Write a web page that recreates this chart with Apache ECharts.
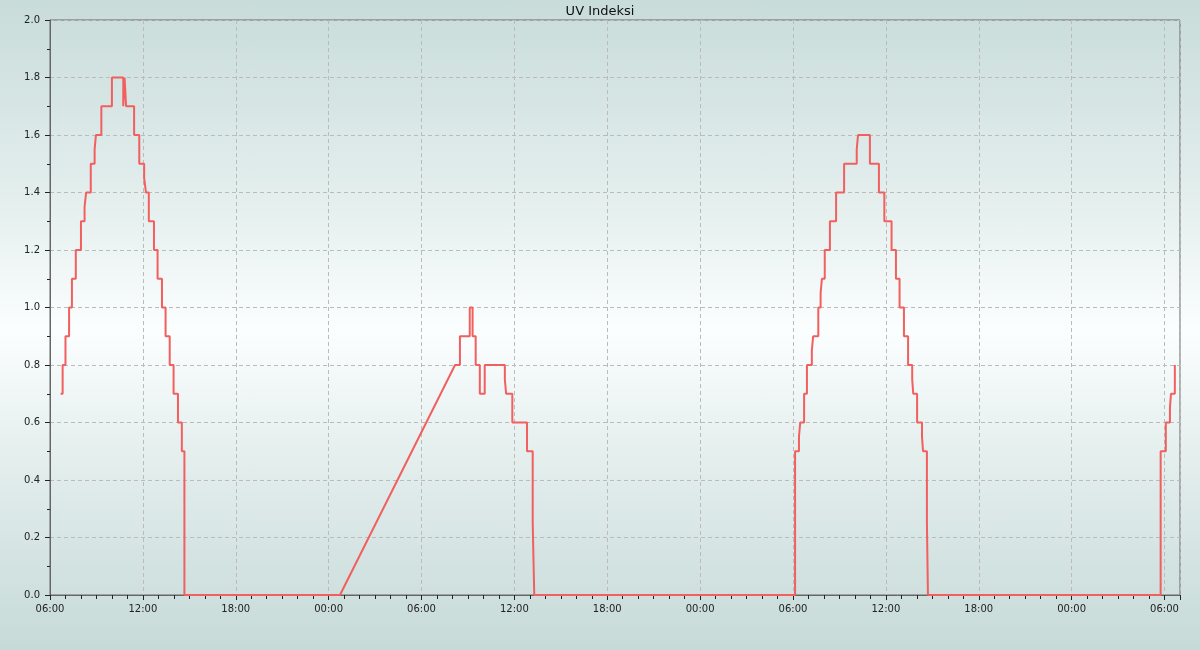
<!DOCTYPE html>
<html>
<head>
<meta charset="utf-8">
<script src="https://cdn.jsdelivr.net/npm/echarts@6/dist/echarts.min.js"></script>
<style>
  html, body { margin: 0; padding: 0; }
  body {
    width: 1200px; height: 650px; overflow: hidden;
    background: linear-gradient(to bottom, #c8dcda 0%, #e3eeed 30%, #fbfefe 51%, #e2edec 72%, #c6dad8 100%);
  }
  #chart { width: 1200px; height: 650px; }
</style>
</head>
<body>
<div id="chart"></div>
<script>
// ---- Data (change points: value holds from this time until the next one) ----
const title = 'UV Indeksi';

// Segment 1: day 1 morning through the night (ends at start of data gap)
const seg1Times = [
  '2024-06-10 06:41', '2024-06-10 06:49', '2024-06-10 07:00', '2024-06-10 07:14',
  '2024-06-10 07:25', '2024-06-10 07:40', '2024-06-10 08:00', '2024-06-10 08:14',
  '2024-06-10 08:20', '2024-06-10 08:38', '2024-06-10 08:53', '2024-06-10 08:58',
  '2024-06-10 09:19', '2024-06-10 10:00', '2024-06-10 10:44', '2024-06-10 10:49',
  '2024-06-10 10:55', '2024-06-10 11:26', '2024-06-10 11:46', '2024-06-10 12:05',
  '2024-06-10 12:12', '2024-06-10 12:23', '2024-06-10 12:43', '2024-06-10 12:57',
  '2024-06-10 13:14', '2024-06-10 13:28', '2024-06-10 13:44', '2024-06-10 13:59',
  '2024-06-10 14:16', '2024-06-10 14:31', '2024-06-10 14:41', '2024-06-11 00:44'
];
const seg1Values = [
  0.7, 0.8, 0.9, 1.0,
  1.1, 1.2, 1.3, 1.35,
  1.4, 1.5, 1.55, 1.6,
  1.7, 1.8, 1.7, 1.8,
  1.7, 1.6, 1.5, 1.45,
  1.4, 1.3, 1.2, 1.1,
  1.0, 0.9, 0.8, 0.7,
  0.6, 0.5, 0.0, 0.0
];

// Segment 2: after the data gap, day 2 morning to day 4 morning
const seg2Times = [
  '2024-06-11 08:10', '2024-06-11 08:29', '2024-06-11 09:07', '2024-06-11 09:18',
  '2024-06-11 09:30', '2024-06-11 09:46', '2024-06-11 10:05', '2024-06-11 11:23',
  '2024-06-11 11:28', '2024-06-11 11:52', '2024-06-11 12:49', '2024-06-11 13:11',
  '2024-06-11 13:17',
  '2024-06-12 06:08', '2024-06-12 06:23', '2024-06-12 06:28', '2024-06-12 06:43',
  '2024-06-12 06:54', '2024-06-12 07:13', '2024-06-12 07:18', '2024-06-12 07:38',
  '2024-06-12 07:47', '2024-06-12 07:52', '2024-06-12 08:03', '2024-06-12 08:23',
  '2024-06-12 08:47', '2024-06-12 09:18', '2024-06-12 10:07', '2024-06-12 10:12',
  '2024-06-12 10:58', '2024-06-12 11:33', '2024-06-12 11:54', '2024-06-12 12:22',
  '2024-06-12 12:39', '2024-06-12 12:53', '2024-06-12 13:10', '2024-06-12 13:26',
  '2024-06-12 13:42', '2024-06-12 13:46', '2024-06-12 14:01', '2024-06-12 14:20',
  '2024-06-12 14:24', '2024-06-12 14:39', '2024-06-12 14:43',
  '2024-06-13 05:45', '2024-06-13 06:05', '2024-06-13 06:21', '2024-06-13 06:25',
  '2024-06-13 06:40'
];
const seg2Values = [
  0.8, 0.9, 1.0, 0.9,
  0.8, 0.7, 0.8, 0.75,
  0.7, 0.6, 0.5, 0.25,
  0.0,
  0.5, 0.55, 0.6, 0.7,
  0.8, 0.85, 0.9, 1.0,
  1.05, 1.1, 1.2, 1.3,
  1.4, 1.5, 1.55, 1.6,
  1.5, 1.4, 1.3, 1.2,
  1.1, 1.0, 0.9, 0.8,
  0.75, 0.7, 0.6, 0.55,
  0.5, 0.25, 0.0,
  0.5, 0.6, 0.65, 0.7,
  0.8
];

const axisStart = '2024-06-10 06:00';
const axisEnd = '2024-06-13 07:00';
const yTicks = [0, 0.2, 0.4, 0.6, 0.8, 1.0, 1.2, 1.4, 1.6, 1.8, 2.0];

// ---- Helpers ----
function toMs(s) {
  const [d, t] = s.split(' ');
  const [Y, M, D] = d.split('-').map(Number);
  const [h, m] = t.split(':').map(Number);
  return Date.UTC(Y, M - 1, D, h, m);
}
function stepify(times, values) {
  const out = [];
  for (let i = 0; i < times.length; i++) {
    const t = toMs(times[i]);
    if (i > 0 && values[i] !== values[i - 1]) out.push([t, values[i - 1]]);
    out.push([t, values[i]]);
  }
  return out;
}
const pad = n => (n < 10 ? '0' : '') + n;
const H6 = 6 * 3600 * 1000;

const lineData = stepify(seg1Times, seg1Values).concat(stepify(seg2Times, seg2Values));

const chart = echarts.init(document.getElementById('chart'), null, { renderer: 'canvas' });
const font = 'DejaVu Sans';
chart.setOption({
  backgroundColor: 'transparent',
  animation: false,
  title: {
    text: title, left: 'center', top: 0,
    textStyle: { fontFamily: font, fontSize: 13, fontWeight: 'normal', color: '#111' }
  },
  grid: {
    left: 50, right: 20, top: 20, bottom: 55,
    show: true, borderColor: '#666', borderWidth: 1, backgroundColor: 'transparent'
  },
  xAxis: {
    type: 'value',
    min: toMs(axisStart), max: toMs(axisEnd), interval: H6,
    axisLine: { show: true, onZero: false, lineStyle: { color: '#666', width: 1 } },
    axisTick: { show: true, length: 5, lineStyle: { color: '#222' } },
    minorTick: { show: true, splitNumber: 6, length: 4, lineStyle: { color: '#222' } },
    splitLine: { show: true, lineStyle: { color: '#bbbbbb', type: [4, 3], width: 1 } },
    axisLabel: {
      fontFamily: font, fontSize: 10, color: '#222', margin: 9,
      showMaxLabel: false,
      formatter: v => { const d = new Date(v); return pad(d.getUTCHours()) + ':' + pad(d.getUTCMinutes()); }
    }
  },
  yAxis: {
    type: 'value', min: yTicks[0], max: yTicks[yTicks.length - 1], interval: 0.2,
    axisLine: { show: true, lineStyle: { color: '#666', width: 1 } },
    axisTick: { show: true, length: 5, lineStyle: { color: '#222' } },
    minorTick: { show: true, splitNumber: 2, length: 3, lineStyle: { color: '#222' } },
    splitLine: { show: true, lineStyle: { color: '#bbbbbb', type: [4, 3], width: 1 } },
    axisLabel: {
      fontFamily: font, fontSize: 10, color: '#222', margin: 10,
      formatter: v => v.toFixed(1)
    }
  },
  series: [{
    type: 'line',
    data: lineData,
    showSymbol: false,
    symbol: 'none',
    lineStyle: { color: '#f25f5f', width: 2 },
    itemStyle: { color: '#f25f5f' }
  }]
});
</script>
</body>
</html>
